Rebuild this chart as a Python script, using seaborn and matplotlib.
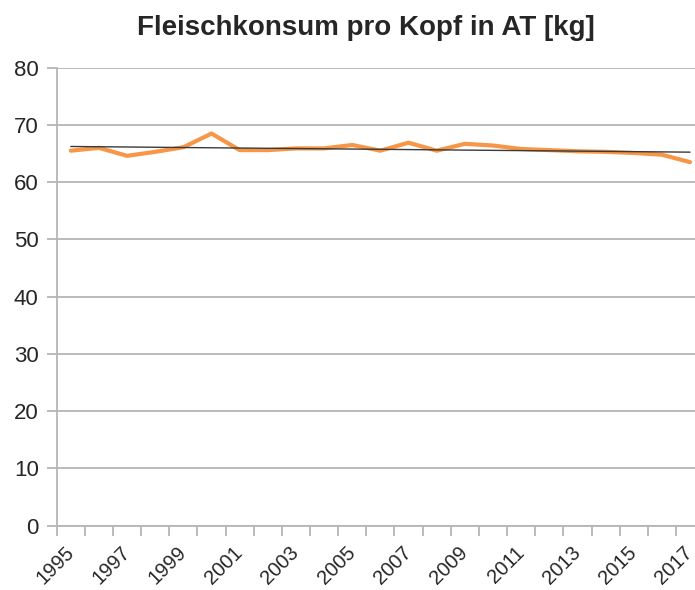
import matplotlib
matplotlib.use("Agg")
import matplotlib.pyplot as plt
import seaborn as sns
import numpy as np
import pandas as pd

### data
years = list(range(1995, 2018))
kg = [65.5, 66.0, 64.6, 65.3, 66.1, 68.5, 65.6, 65.6, 65.9, 65.9, 66.5, 65.5,
      66.9, 65.5, 66.7, 66.4, 65.8, 65.6, 65.4, 65.3, 65.1, 64.8, 63.5]
label_years = years[::2]

title = "Fleischkonsum pro Kopf in AT [kg]"

df = pd.DataFrame({"Jahr": years, "kg": kg})

sns.set_style("white")
plt.rcParams["font.family"] = ["Liberation Sans", "DejaVu Sans"]

grey = "#B5B5B5"

fig = plt.figure(figsize=(6.95, 5.9), dpi=100)
ax = fig.add_axes([0.0816, 0.109, 0.9315, 0.7763])

sns.lineplot(data=df, x="Jahr", y="kg", ax=ax, color="#F79646",
             linewidth=3.0, zorder=3)
# linear trend line (Excel style)
sns.regplot(data=df, x="Jahr", y="kg", ax=ax, scatter=False, ci=None,
            color="#3A3A3A", line_kws={"linewidth": 1.0, "zorder": 4})

ax.set_xlim(years[0] - 0.5, years[-1] + 0.5)
ax.set_ylim(0, 80)
ax.set_yticks(range(0, 81, 10))
ax.yaxis.grid(True, color=grey, linewidth=1.3)
ax.set_axisbelow(True)

# tick marks between categories, labels on every second year
ax.set_xticks(np.arange(years[0] - 0.5, years[-1] + 1, 1))
ax.set_xticklabels([])
ax.set_xticks(label_years, minor=True)
ax.set_xticklabels([str(y) for y in label_years], minor=True, rotation=45,
                   ha="right", va="center", rotation_mode="anchor", fontsize=14.5)
ax.tick_params(axis="x", which="major", length=7, width=1.3, color=grey,
               direction="out", bottom=True)
ax.tick_params(axis="x", which="minor", length=0, pad=17, bottom=True)
ax.tick_params(axis="y", length=7, width=1.3, color=grey, direction="out",
               left=True, labelsize=16, pad=6)

for s in ["top", "right"]:
    ax.spines[s].set_visible(False)
for s in ["left", "bottom"]:
    ax.spines[s].set_color(grey)
    ax.spines[s].set_linewidth(1.3)

ax.set_xlabel("")
ax.set_ylabel("")

fig.text(0.526, 0.9415, title, ha="center", va="baseline", fontsize=20,
         fontweight="bold")

fig.savefig("out.png", dpi=100)
